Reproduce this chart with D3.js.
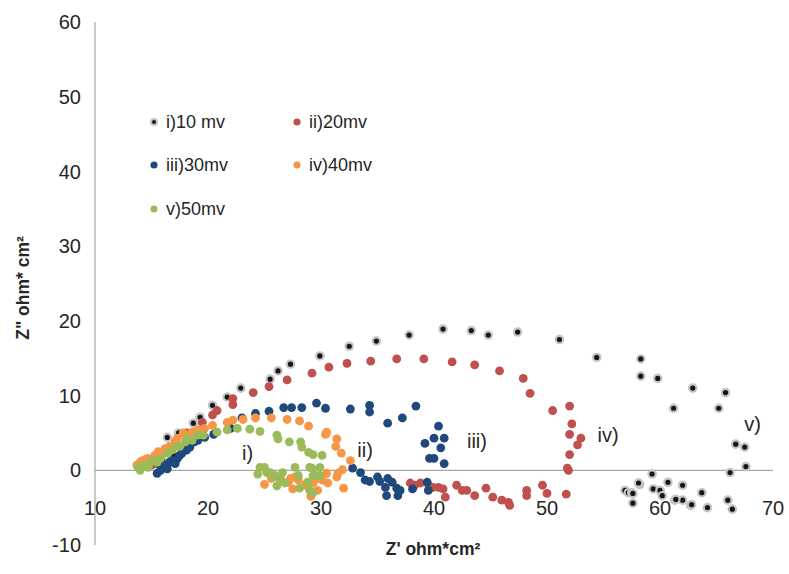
<!DOCTYPE html>
<html>
<head>
  <meta charset="utf-8">
  <title>Nyquist plot</title>
  <script src="https://d3js.org/d3.v7.min.js"></script>
  <style>
    body { margin: 0; background: #fff; font-family: 'Liberation Sans', Arial, sans-serif; }
    svg { display: block; }
    .tick-label { font-size: 20px; fill: #262626; }
    .legend text { font-size: 18px; fill: #262626; }
    .axis-title { font-size: 17.5px; font-weight: bold; fill: #262626; }
    .curve-label { font-size: 20px; fill: #262626; }
  </style>
</head>
<body>
  <div id="chart"></div>
  <script>
    // Z', Z'' pairs
    var i10mv = [[15.8,0.7],[16.5,0.9],[16.4,4.4],[17.4,5.0],[18.7,6.3],[19.3,7.1],[20.4,8.7],[21.7,9.8],[22.9,11.0],
      [25.5,12.2],[26.2,13.3],[27.3,14.2],[29.9,15.3],[32.5,16.6],[34.9,17.3],[37.8,18.1],[40.8,18.9],[43.3,18.7],
      [44.8,18.1],[47.4,18.5],[51.1,17.5],[54.4,15.1],[58.3,14.9],[58.3,12.6],[59.8,12.3],[62.9,11.0],[65.8,10.4],
      [61.2,8.3],[65.2,8.3],[66.7,3.5],[67.5,3.1],[67.6,0.5],[66.2,-0.3],[59.3,-0.5],[58.2,-1.9],[56.9,-2.7],
      [57.2,-3.0],[57.5,-3.0],[57.6,-3.1],[58.1,-1.7],[57.6,-4.4],[59.4,-2.5],[60.0,-2.7],[60.2,-3.4],[60.7,-1.6],
      [61.3,-4.0],[62.0,-2.0],[62.0,-4.0],[62.7,-4.7],[63.7,-3.0],[64.2,-5.0],[66.0,-4.0],[66.4,-5.2],[62.8,-4.6],[61.4,-3.9],
      [16.0,1.2],[17.0,2.0]];

    var ii20mv = [[15.0,0.7],[15.3,0.9],[18.1,5.0],[19.5,6.4],[20.4,7.4],[20.8,8.0],[22.2,8.8],[22.2,9.6],[24.0,10.4],
      [25.4,11.2],[27.0,12.1],[29.2,13.0],[30.7,13.8],[32.3,14.3],[34.4,14.6],[36.7,14.9],[39.1,14.9],[41.6,14.5],
      [43.6,14.1],[45.8,13.3],[47.9,12.3],[48.5,10.3],[50.5,8.0],[52.0,8.6],[52.2,6.2],[52.0,4.8],[53.0,4.3],
      [52.7,3.4],[52.0,2.1],[51.8,0.3],[51.9,0.0],[51.7,-3.2],[50.0,-3.1],[49.6,-2.0],[48.2,-2.7],[48.2,-3.4],
      [46.7,-4.7],[46.6,-4.3],[46.0,-4.0],[45.2,-3.6],[44.6,-2.4],[43.6,-3.4],[42.9,-2.7],[42.5,-2.7],[42.0,-2.0],
      [41.0,-3.6],[40.8,-2.5],[40.4,-2.3],[39.9,-2.3],[39.4,-1.7],[38.8,-1.7],[38.3,-2.0],[37.9,-1.7]];

    var iii30mv = [[15.5,-0.4],[15.8,0.7],[16.0,0.3],[16.6,1.1],[17.3,1.6],[17.7,2.3],[18.1,2.7],[18.8,3.8],[20.5,4.8],
      [22.0,5.6],[23.0,7.0],[24.2,7.6],[25.4,7.9],[26.7,8.4],[27.4,8.4],[28.3,8.4],[29.6,9.0],[30.4,8.3],[32.6,8.2],
      [34.3,8.7],[34.3,7.8],[35.9,6.3],[37.2,7.0],[38.4,8.6],[40.4,5.9],[39.2,3.6],[40.0,4.3],[40.9,4.3],[40.6,3.0],
      [39.6,1.6],[40.0,1.6],[40.9,0.9],[32.8,0.3],[33.5,-0.3],[33.9,-1.3],[34.3,-1.5],[35.0,-0.9],[35.2,-1.5],
      [35.7,-2.3],[35.9,-1.1],[36.3,-1.6],[36.7,-2.4],[35.8,-3.4],[36.8,-3.4],[38.1,-2.5],[39.4,-1.6],[39.5,-2.7],[37.0,-2.7],
      [15.8,0.0],[16.2,0.7],[16.8,1.3],[17.5,2.0],[18.4,3.1],[19.1,4.0],[19.7,4.4],[16.4,0.2],[17.1,0.9]];

    var iv40mv = [[13.7,0.7],[14.2,1.3],[14.7,1.6],[15.6,2.5],[15.9,2.3],[16.6,3.2],[17.3,4.3],[17.8,5.0],[18.1,4.7],
      [19.1,5.4],[19.7,5.6],[20.4,6.0],[21.7,6.4],[22.2,6.7],[23.1,6.8],[24.2,7.0],[25.6,7.0],[27.0,6.8],[28.1,6.6],
      [28.9,5.9],[30.4,4.8],[30.5,5.1],[31.4,4.2],[31.3,3.2],[31.8,2.3],[32.6,1.3],[31.9,0.1],[31.5,-0.4],[31.4,-0.9],
      [32.0,-2.4],[30.5,-0.4],[30.1,-1.3],[29.7,-2.7],[29.3,-1.7],[28.6,-2.0],[27.7,-0.9],[27.1,-1.6],[26.4,-0.9],
      [27.3,-1.1],[28.0,-1.3],[28.8,-2.0],[29.7,-1.1],[30.6,-1.7],[29.1,-3.5],[27.5,-2.5],[25.6,-1.1],[25.0,-1.9],
      [14.0,1.1],[14.5,1.5],[15.3,2.0],[16.2,2.9],[17.1,3.9],[18.6,5.1]];

    var v50mv = [[13.8,0.4],[14.0,0.0],[14.3,0.7],[14.7,0.4],[15.1,1.3],[15.5,1.1],[16.4,2.3],[17.3,3.2],[18.0,3.8],
      [18.1,4.3],[19.1,4.7],[19.6,4.7],[20.8,5.1],[21.7,5.4],[22.6,5.6],[23.7,5.5],[24.6,5.2],[26.1,4.7],[26.2,4.2],
      [27.2,3.8],[28.2,3.8],[28.3,3.1],[28.9,2.4],[29.3,2.1],[30.1,2.0],[24.4,-0.5],[24.6,0.4],[25.0,0.4],[25.2,-0.3],
      [25.5,-0.3],[25.8,-0.9],[25.9,-0.7],[26.1,-2.1],[26.4,-1.3],[26.6,-0.3],[26.8,-1.7],[27.7,0.4],[28.0,-0.7],
      [28.1,-2.4],[28.8,-1.6],[29.0,0.4],[29.2,0.3],[29.3,-0.7],[29.3,-3.0],[29.5,-0.7],[29.9,0.4],[29.9,-0.7],[29.0,-2.7],
      [14.4,0.7],[14.9,1.1],[15.8,1.6],[16.8,2.7],[17.5,3.2],[18.6,4.0]];

    var seriesNames = ["i)10 mv", "ii)20mv", "iii)30mv", "iv)40mv", "v)50mv"];
    var seriesColors = ["#161616", "#c0504d", "#1f497d", "#f79646", "#9bbb59"];
    var allSeries = [i10mv, ii20mv, iii30mv, iv40mv, v50mv];

    var xTicks = [10, 20, 30, 40, 50, 60, 70];
    var yTicks = [-10, 0, 10, 20, 30, 40, 50, 60];

    // labels next to the curves
    var curveLabels = ["i)", "ii)", "iii)", "iv)", "v)"];
    var curveLabelAt = [[23.5, 2.4], [33.9, 2.8], [43.8, 4.0], [55.4, 4.8], [68.2, 6.2]];

    var width = 789, height = 574;

    var x = d3.scaleLinear().domain([10, 70]).range([95, 773]);
    var y = d3.scaleLinear().domain([-10, 60]).range([545, 22]);

    var svg = d3.select("#chart").append("svg")
      .attr("width", width)
      .attr("height", height);

    svg.append("rect").attr("width", width).attr("height", height).attr("fill", "#fff");

    // axes lines
    svg.append("line")
      .attr("x1", x(10)).attr("x2", x(10))
      .attr("y1", y(60)).attr("y2", y(-10))
      .attr("stroke", "#a6a6a6").attr("stroke-width", 1.2);
    svg.append("line")
      .attr("x1", x(10)).attr("x2", x(70))
      .attr("y1", y(0)).attr("y2", y(0))
      .attr("stroke", "#a6a6a6").attr("stroke-width", 1.2);

    svg.selectAll(".ytick")
      .data(yTicks)
      .enter()
      .append("text")
      .attr("class", "tick-label")
      .attr("x", 81)
      .attr("y", (d) => y(d))
      .attr("dy", "0.36em")
      .attr("text-anchor", "end")
      .text((d) => d);

    svg.selectAll(".xtick")
      .data(xTicks)
      .enter()
      .append("text")
      .attr("class", "tick-label")
      .attr("x", (d) => x(d))
      .attr("y", 508)
      .attr("dy", "0.36em")
      .attr("text-anchor", "middle")
      .text((d) => d);

    // axis titles
    svg.append("text")
      .attr("class", "axis-title")
      .attr("x", 433)
      .attr("y", 555)
      .attr("text-anchor", "middle")
      .text("Z' ohm*cm\u00b2");

    svg.append("text")
      .attr("class", "axis-title")
      .attr("transform", "translate(29,288) rotate(-90)")
      .attr("text-anchor", "middle")
      .text("Z\" ohm* cm\u00b2");

    // markers
    allSeries.forEach((pts, k) => {
      svg.append("g")
        .selectAll("circle")
        .data(pts)
        .enter()
        .append("circle")
        .attr("cx", (d) => x(d[0]))
        .attr("cy", (d) => y(d[1]))
        .attr("r", k == 0 ? 3.7 : 4.4)
        .attr("fill", seriesColors[k])
        .attr("stroke", k == 0 ? "#c4c4c4" : "none")
        .attr("stroke-width", k == 0 ? 2.2 : 0);
    });

    // curve labels
    svg.selectAll(".curve-label")
      .data(curveLabels)
      .enter()
      .append("text")
      .attr("class", "curve-label")
      .attr("x", (d, k) => x(curveLabelAt[k][0]))
      .attr("y", (d, k) => y(curveLabelAt[k][1]))
      .attr("dy", "0.36em")
      .attr("text-anchor", "middle")
      .text((d) => d);

    // legend
    var legendPos = [[154, 122], [297, 122], [154, 165], [297, 165], [154, 209]];
    var legend = svg.append("g").attr("class", "legend");
    seriesNames.forEach((name, k) => {
      var g = legend.append("g").attr("transform", "translate(" + legendPos[k][0] + "," + legendPos[k][1] + ")");
      g.append("circle")
        .attr("r", k == 0 ? 3 : 3.6)
        .attr("fill", seriesColors[k])
        .attr("stroke", k == 0 ? "#c4c4c4" : "none")
        .attr("stroke-width", k == 0 ? 2 : 0);
      g.append("text")
        .attr("x", 12)
        .attr("dy", "0.36em")
        .text(name);
    });
  </script>
</body>
</html>
